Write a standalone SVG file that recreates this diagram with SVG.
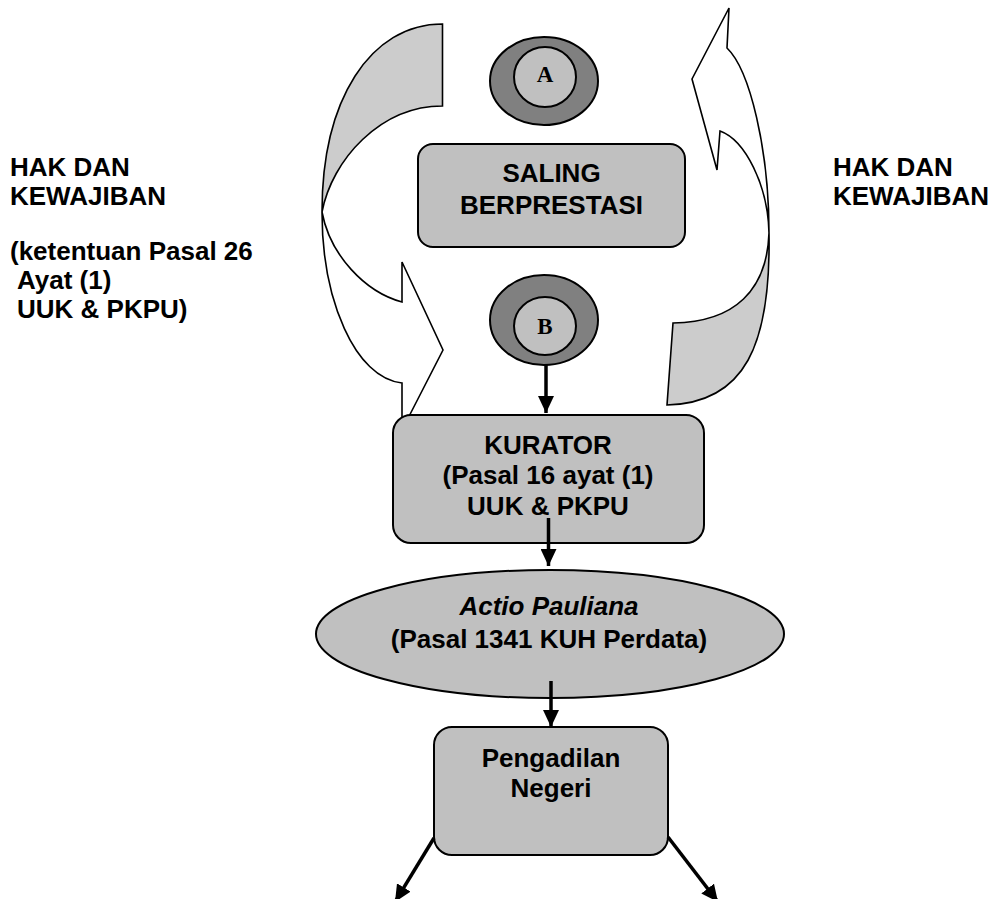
<svg xmlns="http://www.w3.org/2000/svg" width="994" height="899" viewBox="0 0 994 899">
<style>
.t{font-family:"Liberation Sans",Arial,sans-serif;font-weight:bold;font-size:26px;fill:#000}
.c{text-anchor:middle}
.s{font-family:"Liberation Serif","Times New Roman",serif;font-weight:bold;font-size:23px;text-anchor:middle;fill:#000}
.box{fill:#c0c0c0;stroke:#000;stroke-width:2}
.arw{fill:#fff;stroke:#000;stroke-width:1.6;stroke-linejoin:miter}
.arg{fill:#cccccc;stroke:#000;stroke-width:1.6}
.ring{fill:#808080;stroke:#000;stroke-width:2}
.in{fill:#c0c0c0;stroke:#000;stroke-width:2}
.ln{stroke:#000;stroke-width:3.5;fill:none}
</style>
<defs>
<marker id="ah" markerUnits="userSpaceOnUse" markerWidth="18" markerHeight="16" refX="17" refY="8" orient="auto" viewBox="0 0 18 16">
<path d="M0,0 L17,8 L0,16 z" fill="#000"/>
</marker>
</defs>
<rect width="994" height="899" fill="#fff"/>
<g id="curved-arrow-left">
<path class="arw" d="M322,212 C322,300 355,378 402,383 L402,430 L443,350 L402,262 L402,302 C365,292 330,255 322,212 Z"/>
<path class="arg" d="M442.5,24 C370,24 322,100 322,212 C332,160 380,106 442.5,106 Z"/>
</g>
<g id="curved-arrow-right">
<path class="arw" d="M769,233 C769,150 750,70 727,48 L729,8 L692,79 L717,170 L720,131 C745,140 768,185 769,233 Z"/>
<path class="arg" d="M769,233 C771,345 745,403 667,405 L673,323 C735,322 767,290 769,233 Z"/>
</g>
<g id="label-left">
<text class="t" x="10" y="176">HAK DAN</text>
<text class="t" x="10" y="205">KEWAJIBAN</text>
<text class="t" x="10" y="260">(ketentuan Pasal 26</text>
<text class="t" x="17" y="289">Ayat (1)</text>
<text class="t" x="17" y="318">UUK &amp; PKPU)</text>
</g>
<g id="label-right">
<text class="t" x="833" y="176">HAK DAN</text>
<text class="t" x="833" y="205">KEWAJIBAN</text>
</g>
<g id="node-A">
<ellipse class="ring" cx="544" cy="81" rx="54" ry="44"/>
<ellipse class="in" cx="545" cy="77" rx="31" ry="30"/>
<text class="s" x="545" y="82">A</text>
</g>
<g id="node-saling">
<rect class="box" x="418" y="144" width="267" height="103" rx="15"/>
<text class="t c" x="551.5" y="182">SALING</text>
<text class="t c" x="551.5" y="213.5">BERPRESTASI</text>
</g>
<g id="node-B">
<ellipse class="ring" cx="544" cy="320" rx="54" ry="45"/>
<ellipse class="in" cx="545" cy="326" rx="31" ry="29"/>
<text class="s" x="545" y="334">B</text>
</g>
<g id="node-kurator">
<rect class="box" x="393" y="415" width="311" height="128" rx="18"/>
<text class="t c" x="548" y="454">KURATOR</text>
<text class="t c" x="548" y="484">(Pasal 16 ayat (1)</text>
<text class="t c" x="548" y="515">UUK &amp; PKPU</text>
</g>
<g id="node-actio">
<ellipse class="box" cx="550" cy="634" rx="234" ry="64"/>
<text class="t c" x="549" y="615" font-style="italic">Actio Pauliana</text>
<text class="t c" x="549" y="648">(Pasal 1341 KUH Perdata)</text>
</g>
<g id="node-pengadilan">
<rect class="box" x="434" y="727" width="234" height="128" rx="18"/>
<text class="t c" x="551" y="767">Pengadilan</text>
<text class="t c" x="551" y="797">Negeri</text>
</g>
<g id="connectors">
<line class="ln" x1="546" y1="365" x2="546" y2="413" marker-end="url(#ah)"/>
<line class="ln" x1="548.5" y1="518" x2="548.5" y2="566" marker-end="url(#ah)"/>
<line class="ln" x1="551" y1="681" x2="551" y2="727" marker-end="url(#ah)"/>
<line class="ln" x1="434" y1="838" x2="395" y2="902" marker-end="url(#ah)"/>
<line class="ln" x1="668" y1="837" x2="718" y2="902" marker-end="url(#ah)"/>
</g>
</svg>
